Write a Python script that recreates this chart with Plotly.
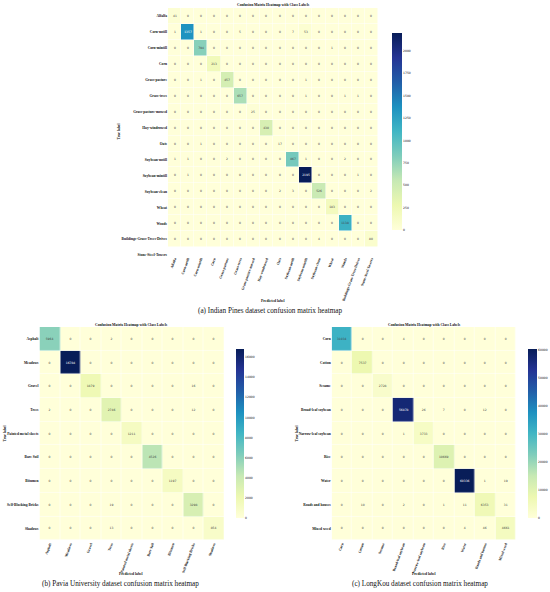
import plotly.express as px
import plotly.graph_objects as go

W, H = 550, 592

indian_labels = ["Alfalfa", "Corn-notill", "Corn-mintill", "Corn", "Grass-pasture", "Grass-trees",
                 "Grass-pasture-mowed", "Hay-windrowed", "Oats", "Soybean-notill", "Soybean-mintill",
                 "Soybean-clean", "Wheat", "Woods", "Buildings-Grass-Trees-Drives", "Stone-Steel-Towers"]
pavia_labels = ["Asphalt", "Meadows", "Gravel", "Trees", "Painted metal sheets", "Bare Soil",
                "Bitumen", "Self-Blocking Bricks", "Shadows"]
longkou_labels = ["Corn", "Cotton", "Sesame", "Broad-leaf soybean", "Narrow-leaf soybean", "Rice",
                  "Water", "Roads and houses", "Mixed weed"]

# last Indian Pines row is cut off in the original, only its label shows
indian_z = [
    [41, 0, 0, 0, 0, 0, 0, 0, 0, 0, 0, 0, 0, 0, 0, 0],
    [1, 1357, 1, 0, 0, 5, 0, 0, 0, 7, 53, 0, 0, 0, 0, 0],
    [0, 0, 794, 0, 0, 0, 0, 0, 0, 0, 0, 0, 1, 0, 0, 0],
    [0, 0, 0, 213, 0, 0, 0, 0, 0, 0, 0, 0, 0, 0, 0, 0],
    [0, 0, 1, 0, 457, 0, 0, 0, 0, 0, 1, 0, 0, 0, 0, 0],
    [0, 0, 0, 0, 0, 657, 0, 0, 0, 0, 1, 0, 0, 1, 1, 0],
    [0, 0, 0, 0, 0, 0, 25, 0, 0, 0, 0, 0, 0, 0, 0, 0],
    [0, 0, 0, 0, 0, 0, 0, 430, 0, 0, 0, 0, 0, 0, 0, 0],
    [0, 0, 1, 0, 0, 0, 0, 0, 17, 0, 0, 0, 0, 0, 0, 0],
    [1, 1, 0, 0, 2, 0, 0, 0, 0, 867, 1, 0, 0, 2, 0, 0],
    [0, 1, 0, 0, 0, 0, 0, 0, 0, 0, 2195, 0, 0, 0, 1, 0],
    [0, 0, 0, 0, 0, 0, 0, 0, 2, 3, 0, 526, 0, 0, 0, 2],
    [0, 0, 0, 0, 0, 0, 0, 0, 0, 0, 0, 0, 183, 0, 0, 0],
    [0, 0, 0, 0, 0, 0, 0, 0, 0, 0, 0, 0, 0, 1138, 0, 0],
    [0, 0, 0, 0, 0, 0, 0, 0, 0, 0, 0, 4, 0, 0, 0, 80],
]
pavia_z = [
    [5964, 0, 0, 2, 0, 0, 0, 0, 0],
    [0, 16784, 0, 0, 0, 0, 0, 0, 0],
    [0, 0, 1879, 0, 0, 0, 0, 16, 0],
    [2, 0, 0, 2746, 0, 0, 0, 12, 0],
    [0, 0, 0, 0, 1211, 0, 0, 0, 0],
    [0, 0, 0, 0, 0, 4526, 0, 0, 0],
    [0, 0, 0, 0, 0, 0, 1197, 0, 0],
    [0, 0, 0, 19, 0, 0, 0, 3298, 0],
    [0, 0, 0, 13, 0, 0, 0, 0, 854],
]
longkou_z = [
    [31034, 0, 0, 4, 0, 0, 0, 0, 0],
    [0, 7537, 0, 0, 0, 0, 0, 0, 0],
    [0, 0, 2728, 0, 0, 0, 0, 0, 0],
    [0, 0, 0, 56878, 26, 7, 0, 12, 0],
    [0, 0, 0, 1, 3733, 0, 0, 0, 0],
    [0, 0, 0, 0, 0, 10669, 0, 0, 0],
    [0, 0, 0, 0, 0, 0, 60336, 1, 19],
    [0, 10, 0, 2, 0, 1, 11, 6353, 31],
    [0, 0, 0, 0, 0, 0, 4, 46, 4661],
]

indian_ticks = [0, 250, 500, 750, 1000, 1250, 1500, 1750, 2000]
pavia_ticks = [0, 2000, 4000, 6000, 8000, 10000, 12000, 14000, 16000]
longkou_ticks = [0, 10000, 20000, 30000, 40000, 50000, 60000]

SERIF = "Liberation Serif"
TICK_COLOR = "#111111"


def px_x(x):
    return x / W


def px_y(y):
    return 1 - y / H


fig = go.Figure()


def add_panel(n, z, labels, box, cbar_box, cbar_ticks, yrange):
    left, right, top, bottom = box
    suffix = "" if n == 1 else str(n)
    fig.add_trace(go.Heatmap(
        z=z,
        x=list(range(len(z[0]))),
        y=list(range(len(z))),
        xaxis="x" + suffix,
        yaxis="y" + suffix,
        colorscale=px.colors.sequential.YlGnBu,
        zmin=0,
        xgap=0.5,
        ygap=0.5,
        texttemplate="%{z:d}",
        textfont=dict(size=3, family="DejaVu Sans"),
        hoverinfo="skip",
        colorbar=dict(
            x=px_x(cbar_box[0]), xanchor="left",
            y=px_y(cbar_box[3]), yanchor="bottom",
            len=(cbar_box[3] - cbar_box[2]) / H,
            thickness=cbar_box[1] - cbar_box[0],
            xpad=0, ypad=0,
            outlinewidth=0,
            ticks="",
            tickvals=cbar_ticks,
            tickformat="d",
            tickfont=dict(size=3, family="DejaVu Sans", color=TICK_COLOR),
        ),
    ))
    fig.update_layout({
        "xaxis" + suffix: dict(
            domain=[px_x(left), px_x(right)],
            anchor="y" + suffix,
            range=[-0.5, len(z[0]) - 0.5],
            tickvals=list(range(len(labels))),
            ticktext=labels,
            tickangle=-70,
            ticks="",
            showgrid=False,
            zeroline=False,
            tickfont=dict(size=3.6, family=SERIF, color=TICK_COLOR, weight="bold"),
        ),
        "yaxis" + suffix: dict(
            domain=[px_y(bottom), px_y(top)],
            anchor="x" + suffix,
            range=yrange,
            tickvals=list(range(len(labels))),
            ticktext=labels,
            ticks="",
            showgrid=False,
            zeroline=False,
            tickfont=dict(size=3.6, family=SERIF, color=TICK_COLOR, weight="bold"),
        ),
    })


add_panel(1, indian_z, indian_labels, (168, 378, 8, 256), (392, 402, 33, 231), indian_ticks, [15, -0.5])
add_panel(2, pavia_z, pavia_labels, (39.5, 224, 328, 542), (236, 244, 350, 520), pavia_ticks, [8.5, -0.5])
add_panel(3, longkou_z, longkou_labels, (331.7, 515.7, 328, 542), (528, 537, 350, 520), longkou_ticks, [8.5, -0.5])


def add_text(text, x, y, size, bold=False, angle=0):
    fig.add_annotation(
        text=f"<b>{text}</b>" if bold else text,
        x=px_x(x), y=px_y(y), xref="paper", yref="paper",
        xanchor="center", yanchor="middle", showarrow=False,
        textangle=angle,
        font=dict(size=size, family=SERIF, color="#111111"),
    )


# heatmap titles
add_text("Confusion Matrix Heatmap with Class Labels", 273, 5.2, 3.7, bold=True)
add_text("Confusion Matrix Heatmap with Class Labels", 131.6, 326.5, 3.7, bold=True)
add_text("Confusion Matrix Heatmap with Class Labels", 424, 326.5, 3.7, bold=True)

# axis titles
add_text("True label", 119, 132, 3.7, bold=True, angle=-90)
add_text("True label", 5, 435, 3.7, bold=True, angle=-90)
add_text("True label", 297, 435, 3.7, bold=True, angle=-90)
add_text("Predicted label", 273, 301.7, 3.7, bold=True)
add_text("Predicted label", 131, 575.6, 3.7, bold=True)
add_text("Predicted label", 424, 575.6, 3.7, bold=True)

# captions
add_text("(a) Indian Pines dataset confusion matrix heatmap", 270, 312, 7.2)
add_text("(b) Pavia University dataset confusion matrix heatmap", 120, 586, 7.2)
add_text("(c) LongKou dataset confusion matrix heatmap", 420, 586, 7.2)

fig.update_layout(
    width=W,
    height=H,
    margin=dict(l=0, r=0, t=0, b=0),
    paper_bgcolor="white",
    plot_bgcolor="white",
    showlegend=False,
)

fig.write_html("out.html", config={"displayModeBar": False}, post_script="document.body.style.margin='0';")
